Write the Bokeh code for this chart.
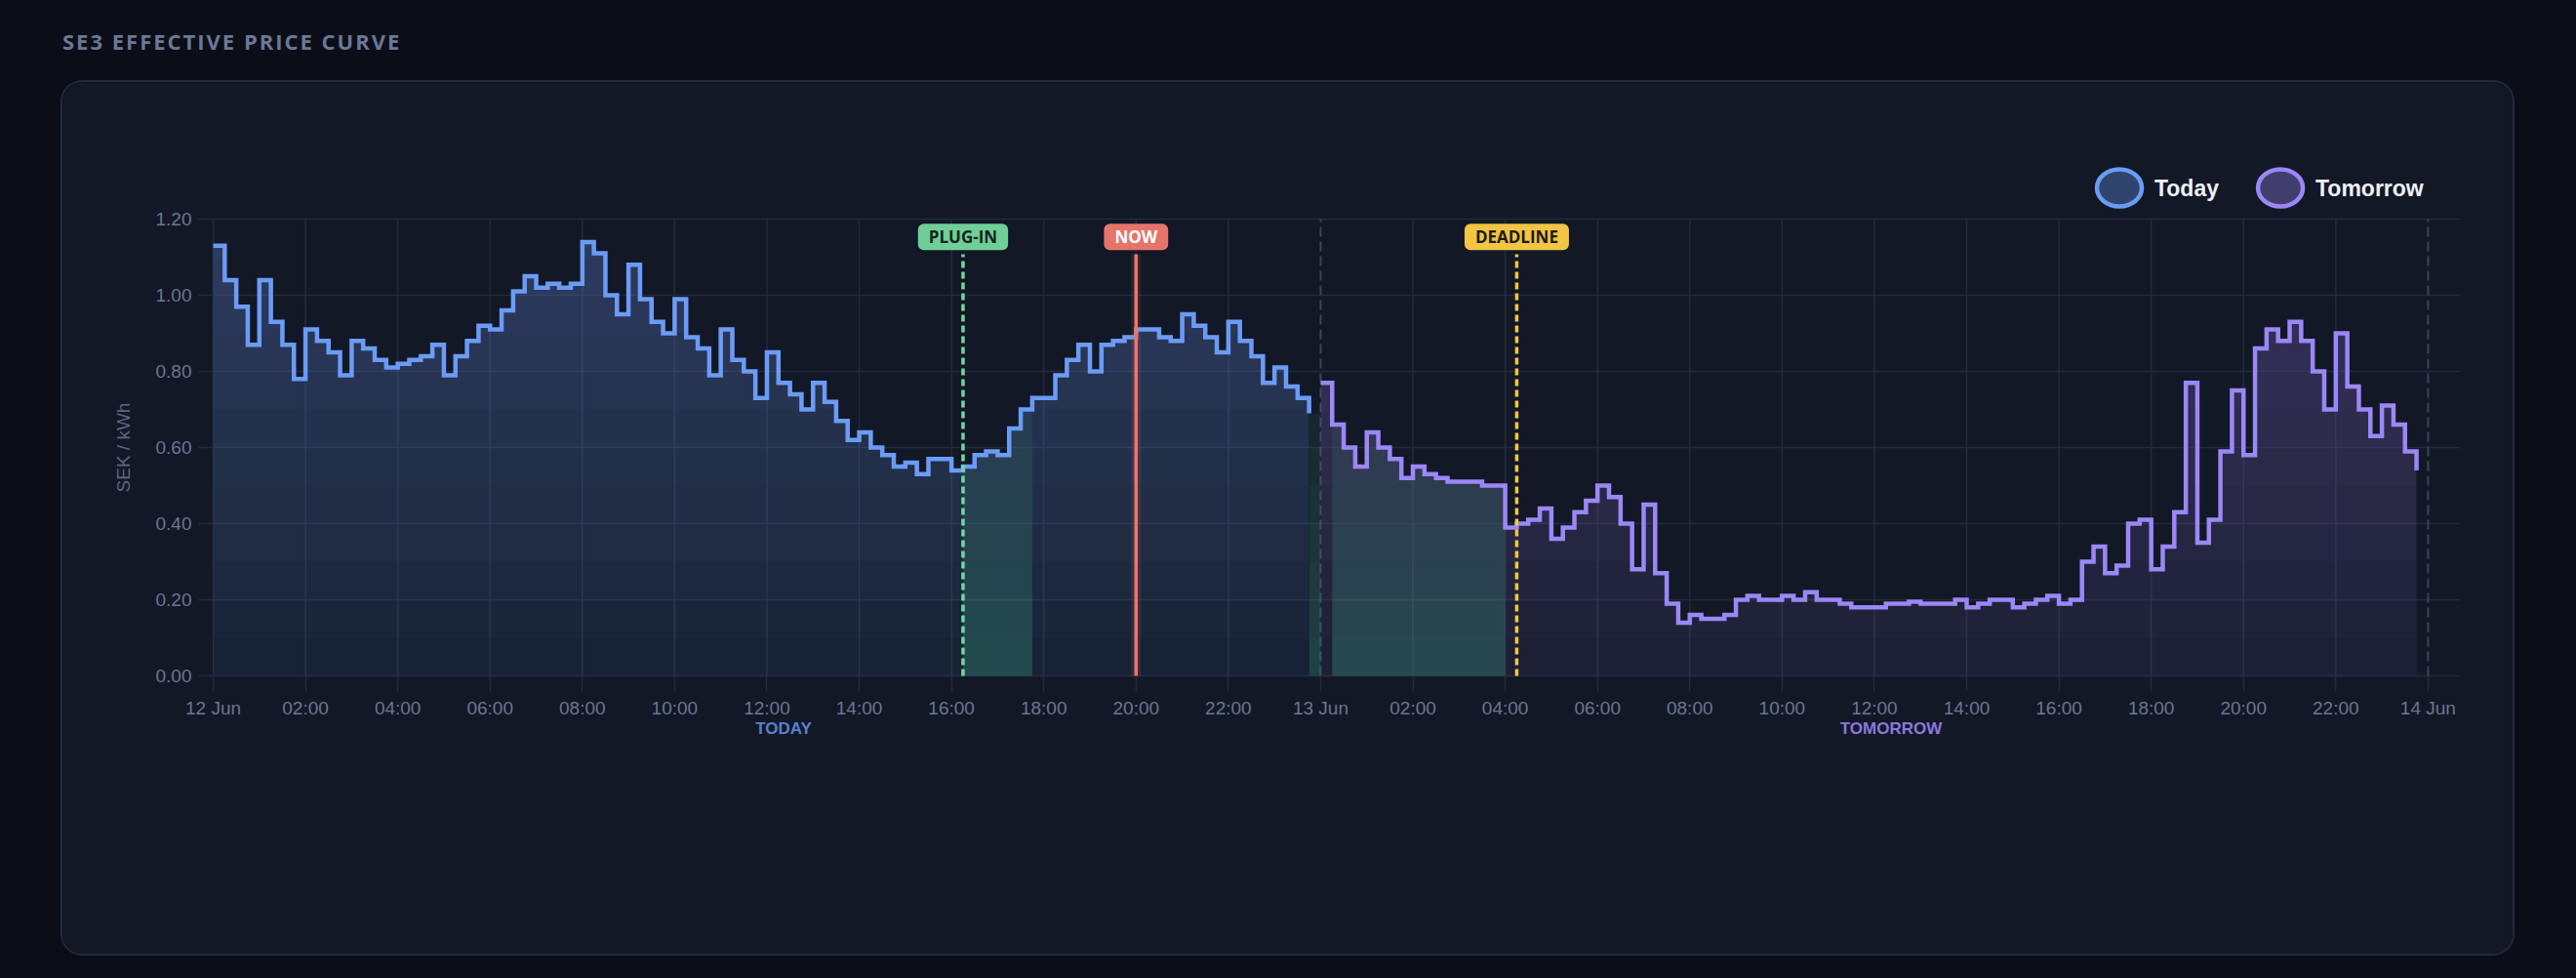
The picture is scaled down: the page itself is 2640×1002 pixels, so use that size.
import numpy as np
from bokeh.plotting import figure
from bokeh.models import Range1d, FixedTicker, Label, Div
from bokeh.layouts import column
from bokeh.embed import file_html
from bokeh.resources import INLINE
from bokeh.core.templates import FILE

# ---------------- data ----------------
slot_hours = 0.25  # 15-minute prices
today_prices = [
    1.13, 1.04, 0.97, 0.87, 1.04, 0.93, 0.87, 0.78,
    0.91, 0.88, 0.85, 0.79, 0.88, 0.86, 0.83, 0.81,
    0.82, 0.83, 0.84, 0.87, 0.79, 0.84, 0.88, 0.92,
    0.91, 0.96, 1.01, 1.05, 1.02, 1.03, 1.02, 1.03,
    1.14, 1.11, 1.00, 0.95, 1.08, 0.99, 0.93, 0.90,
    0.99, 0.89, 0.86, 0.79, 0.91, 0.83, 0.80, 0.73,
    0.85, 0.77, 0.74, 0.70, 0.77, 0.72, 0.67, 0.62,
    0.64, 0.60, 0.58, 0.55, 0.56, 0.53, 0.57, 0.57,
    0.54, 0.55, 0.58, 0.59, 0.58, 0.65, 0.70, 0.73,
    0.73, 0.79, 0.83, 0.87, 0.80, 0.87, 0.88, 0.89,
    0.91, 0.91, 0.89, 0.88, 0.95, 0.92, 0.89, 0.85,
    0.93, 0.88, 0.84, 0.77, 0.81, 0.76, 0.73, 0.69,
]
tomorrow_prices = [
    0.77, 0.66, 0.60, 0.55, 0.64, 0.60, 0.57, 0.52,
    0.55, 0.53, 0.52, 0.51, 0.51, 0.51, 0.50, 0.50,
    0.39, 0.40, 0.41, 0.44, 0.36, 0.39, 0.43, 0.46,
    0.50, 0.47, 0.40, 0.28, 0.45, 0.27, 0.19, 0.14,
    0.16, 0.15, 0.15, 0.16, 0.20, 0.21, 0.20, 0.20,
    0.21, 0.20, 0.22, 0.20, 0.20, 0.19, 0.18, 0.18,
    0.18, 0.19, 0.19, 0.195, 0.19, 0.19, 0.19, 0.20,
    0.18, 0.19, 0.20, 0.20, 0.18, 0.19, 0.20, 0.21,
    0.19, 0.20, 0.30, 0.34, 0.27, 0.29, 0.40, 0.41,
    0.28, 0.34, 0.43, 0.77, 0.35, 0.41, 0.59, 0.75,
    0.58, 0.86, 0.91, 0.88, 0.93, 0.88, 0.80, 0.70,
    0.90, 0.76, 0.70, 0.63, 0.71, 0.66, 0.59, 0.54,
]
charge_slots_today = ["16:15", "16:30", "16:45", "17:00", "17:15", "17:30", "23:45"]
charge_slots_tomorrow = ["00:15", "00:30", "00:45", "01:00", "01:15", "01:30", "01:45",
                         "02:00", "02:15", "02:30", "02:45", "03:00", "03:15", "03:30", "03:45"]
plug_in_time = (0, "16:15")
now_time = (0, "20:00")
deadline_time = (1, "04:15")

x_tick_hours = list(range(0, 49, 2))
x_tick_labels = ["12 Jun", "02:00", "04:00", "06:00", "08:00", "10:00", "12:00", "14:00",
                 "16:00", "18:00", "20:00", "22:00", "13 Jun", "02:00", "04:00", "06:00",
                 "08:00", "10:00", "12:00", "14:00", "16:00", "18:00", "20:00", "22:00", "14 Jun"]
y_ticks = [0.0, 0.2, 0.4, 0.6, 0.8, 1.0, 1.2]
y_tick_labels = ["0.00", "0.20", "0.40", "0.60", "0.80", "1.00", "1.20"]
day_boundaries = [24, 48]
series_names = ["Today", "Tomorrow"]
day_labels = ["TODAY", "TOMORROW"]
day_label_hours = [12.36, 36.36]

# ---------------- style ----------------
PAGE = "#0b0e17"
CARD = "#121826"
CARD_EDGE = "#222a3a"
GRID = "#222b3c"
TICK = "#6b7690"
BLUE = "#6b9bf5"
PURPLE = "#9b87f5"
GREEN = "#4fbf8f"
PLUG = "#6fd99a"
NOW = "#ee766b"
DEAD = "#f5c542"

# plot geometry (card canvas 2511 x 893; price area 2303 x 468 px at offset 154, 140)
CARD_W, CARD_H = 2511, 893
AREA_L, AREA_R, AREA_T, AREA_B = 154, 54, 140, 285
X_MAX = 48.7                      # hours shown in the price area
Y_MAX = max(y_ticks)
PX_H = (CARD_W - AREA_L - AREA_R) / X_MAX
PX_Y = (CARD_H - AREA_T - AREA_B) / Y_MAX
x_range = Range1d(-AREA_L / PX_H, X_MAX + AREA_R / PX_H)
y_range = Range1d(-AREA_B / PX_Y, Y_MAX + AREA_T / PX_Y)


def hrs(day, s):
    h, m = s.split(":")
    return day * 24 + int(h) + int(m) / 60.0


x_today = np.arange(len(today_prices)) * slot_hours
x_tom = 24 + np.arange(len(tomorrow_prices)) * slot_hours
y_today = np.array(today_prices)
y_tom = np.array(tomorrow_prices)

p = figure(width=CARD_W, height=CARD_H, x_range=x_range, y_range=y_range,
           output_backend="svg", toolbar_location=None,
           min_border_left=0, min_border_right=0, min_border_top=0, min_border_bottom=0,
           background_fill_color=CARD, border_fill_color=CARD, outline_line_color=None)
p.styles = {"border-radius": "20px", "overflow": "hidden", "box-shadow": "0 0 0 2px " + CARD_EDGE}
p.margin = (18, 0, 0, 64)

# axes drawn at the zero lines
p.xaxis.ticker = FixedTicker(ticks=x_tick_hours)
p.xaxis.major_label_overrides = {h: lab for h, lab in zip(x_tick_hours, x_tick_labels)}
p.xaxis.fixed_location = 0
p.yaxis.ticker = FixedTicker(ticks=y_ticks)
p.yaxis.major_label_overrides = {v: lab for v, lab in zip(y_ticks, y_tick_labels)}
p.yaxis.fixed_location = 0
for ax, out, st in ((p.xaxis, 16, 6), (p.yaxis, 15, 7)):
    ax.axis_line_color = None
    ax.major_tick_line_color = GRID
    ax.major_tick_line_width = 1.5
    ax.major_tick_out = out
    ax.major_tick_in = 0
    ax.minor_tick_line_color = None
    ax.major_label_text_font = "Liberation Sans"
    ax.major_label_text_font_size = "19px"
    ax.major_label_text_color = TICK
    ax.major_label_standoff = st
p.xgrid.visible = False
p.ygrid.visible = False

# grid lines limited to the price area
gx = [h for h in x_tick_hours if h not in day_boundaries]
p.segment(x0=gx, y0=0, x1=gx, y1=Y_MAX, line_color=GRID, line_width=1.5)
p.segment(x0=0, y0=y_ticks, x1=X_MAX, y1=y_ticks, line_color=GRID, line_width=1.5)
p.segment(x0=day_boundaries, y0=0, x1=day_boundaries, y1=Y_MAX,
          line_color="#3a4558", line_width=2, line_dash="10 5")

# gradient-like fills for both days
for xs, ys, col in ((x_today, y_today, BLUE), (x_tom, y_tom, PURPLE)):
    p.varea_step(x=xs, y1=0, y2=ys, step_mode="after", fill_color=col, fill_alpha=0.075)
    for L in np.arange(0.1, 1.2, 0.1):
        p.varea_step(x=xs, y1=L, y2=np.maximum(ys, L), step_mode="after",
                     fill_color=col, fill_alpha=0.022)

# charging slots (green)
def runs(day, slots, prices):
    idx = sorted(int(round((hrs(0, s)) / slot_hours)) for s in slots)
    out, cur = [], [idx[0]]
    for i in idx[1:]:
        if i == cur[-1] + 1:
            cur.append(i)
        else:
            out.append(cur)
            cur = [i]
    out.append(cur)
    res = []
    for r in out:
        xs = [day * 24 + i * slot_hours for i in r] + [day * 24 + (r[-1] + 1) * slot_hours]
        ys = [prices[i] for i in r] + [prices[r[-1]]]
        res.append((np.array(xs), np.array(ys)))
    return res

for xs, ys in runs(0, charge_slots_today, today_prices) + runs(1, charge_slots_tomorrow, tomorrow_prices):
    p.varea_step(x=xs, y1=0, y2=ys, step_mode="after", fill_color=GREEN, fill_alpha=0.06)
    for L in np.arange(0.1, 0.8, 0.1):
        p.varea_step(x=xs, y1=0, y2=np.minimum(ys, L), step_mode="after",
                     fill_color=GREEN, fill_alpha=0.04)

# price lines
p.step(x_today, y_today, mode="after", line_color=BLUE, line_width=4.5, line_join="miter")
p.step(x_tom, y_tom, mode="after", line_color=PURPLE, line_width=4.5, line_join="miter")

# event markers
line_top = 1.108
label_y = 1.153
markers = [
    (hrs(*plug_in_time), "PLUG-IN", PLUG, "7 4", "#6fcf97", "#13261c"),
    (hrs(*now_time), "NOW", NOW, None, "#e5756b", "#ffffff"),
    (hrs(*deadline_time), "DEADLINE", DEAD, "7 4", "#f2c544", "#1f1a0e"),
]
for mx, txt, lc, dash, bg, tc in markers:
    if dash is None:
        p.segment(x0=[mx], y0=0, x1=[mx], y1=line_top, line_color=lc, line_width=10, line_alpha=0.12)
        p.segment(x0=[mx], y0=0, x1=[mx], y1=line_top, line_color=lc, line_width=3.5)
    else:
        p.segment(x0=[mx], y0=0, x1=[mx], y1=line_top, line_color=lc, line_width=3.5, line_dash=dash)
    p.add_layout(Label(x=mx, y=label_y, text=txt, text_align="center", text_baseline="middle",
                       text_font="Open Sans", text_font_style="bold", text_font_size="17px",
                       text_color=tc, background_fill_color=bg, border_radius=6,
                       padding=(11, 2)))

# legend
leg_x = [41.31, 44.80]
leg_y = 1.282
p.ellipse(x=leg_x, y=[leg_y, leg_y], width=46, height=38, width_units="screen", height_units="screen",
          fill_color=[BLUE, PURPLE], fill_alpha=0.35, line_color=[BLUE, PURPLE], line_width=4.5)
for lx, name in zip(leg_x, series_names):
    p.add_layout(Label(x=lx + 0.76, y=leg_y, text=name, text_align="left", text_baseline="middle",
                       text_font="Liberation Sans", text_font_style="bold", text_font_size="23px",
                       text_color="#eef1f7"))

# day labels under the axis
for cx, name, col in zip(day_label_hours, day_labels, ("#5b80cc", "#8a79da")):
    p.add_layout(Label(x=cx, y=-0.138, text=name, text_align="center", text_baseline="middle",
                       text_font="Liberation Sans", text_font_style="bold", text_font_size="17px",
                       text_color=col))

# y axis title
p.add_layout(Label(x=-1.945, y=Y_MAX / 2, text="SEK / kWh", angle=np.pi / 2, text_align="center",
                   text_baseline="middle", text_font="Liberation Sans", text_font_size="19px",
                   text_color="#5d6780"))

title = Div(text="SE3 EFFECTIVE PRICE CURVE", width=800, height=38, margin=(28, 0, 0, 64),
            styles={"font-family": "'Open Sans'", "font-weight": "700", "font-size": "22px",
                    "letter-spacing": "2px", "color": "#6b7896", "line-height": "28px"})

root = column(title, p, spacing=0)

tpl = FILE.environment.from_string(
    '{% extends "file.html" %}{% block preamble %}<style>html, body { background: '
    + PAGE + '; }</style>{% endblock %}')
open("out.html", "w").write(file_html(root, INLINE, template=tpl))
